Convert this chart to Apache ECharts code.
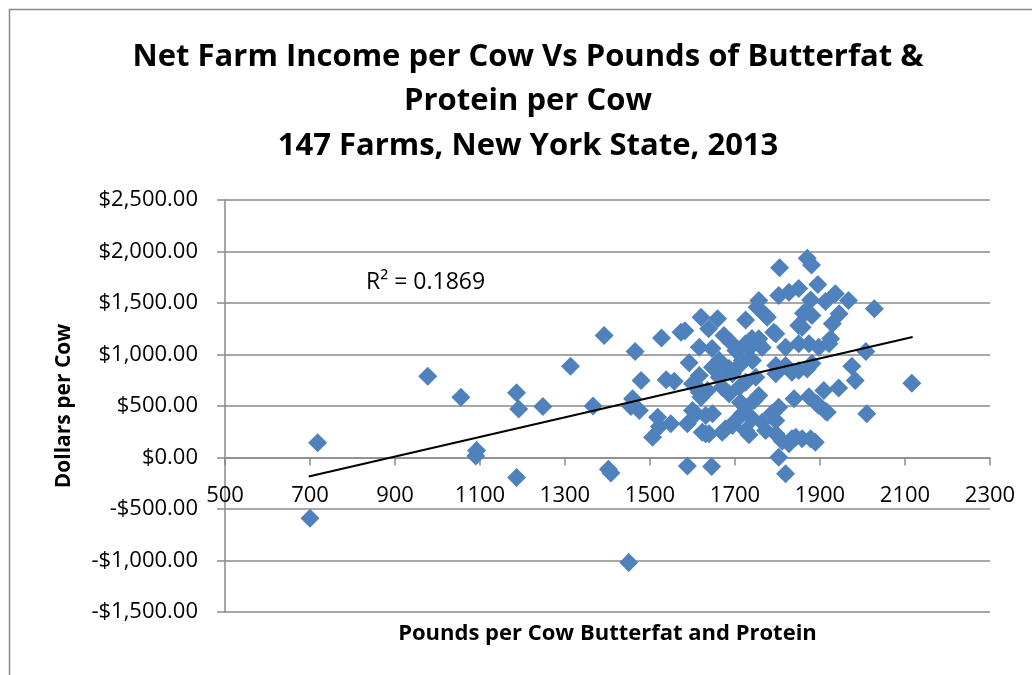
<!DOCTYPE html>
<html><head><meta charset="utf-8">
<script src="https://cdn.jsdelivr.net/npm/echarts@6/dist/echarts.min.js"></script>
<style>html,body{margin:0;padding:0;background:#fff}#c{width:1032px;height:675px}</style>
</head><body><div id="c"></div>
<script>
const titleLines = ['Net Farm Income per Cow Vs Pounds of Butterfat &', 'Protein per Cow', '147 Farms, New York State, 2013'];
const xAxisTitle = 'Pounds per Cow Butterfat and Protein';
const yAxisTitle = 'Dollars per Cow';
const rSquaredLabel = 'R² = 0.1869';
// [pounds butterfat+protein per cow, net farm income per cow ($)]
const farms = [
[718,143],[700,-590],[977,790],[1055,585],[1092,68],[1090,15],[1186,628],[1191,470],[1186,-195],[1248,495],[1313,885],[1366,500],[1392,1185],[1402,-115],[1408,-150],[1450,-1020],
[1465,1030],[1479,748],[1459,570],[1455,495],[1475,456],[1527,1160],[1538,755],[1557,740],[1573,1215],[1582,1230],[1592,920],[1616,796],[1616,634],[1608,699],[1600,456],[1608,424],[1518,391],[1522,300],[1506,197],[1549,327],[1588,327],[1623,246],[1631,408],[1588,-82],[1645,-87],
[1620,1362],[1659,1346],[1638,1249],[1616,1071],[1674,1184],[1690,1120],[1646,1058],[1702,1039],[1805,1842],[1870,1935],[1880,1870],[1756,1524],[1752,1459],[1776,1362],[1796,1201],[1725,1335],[1733,1058],[1725,1104],[1756,1152],[1764,1068],[1819,1071],[1803,1573],[1827,1605],[1850,1640],[1895,1680],[1936,1589],[1967,1524],[1878,1530],[1913,1515],[1945,1395],[1929,1298],[1861,1400],[1858,1265],[1874,1104],[1897,1071],[1921,1104],[1850,1104],[2028,1444],[2008,1030],
[1796,893],[1819,893],[1850,845],[1870,860],[1796,812],[1834,828],[1975,885],[1983,748],[1944,675],[1909,650],[2116,720],[2010,424],[1839,570],[1874,590],[1893,521],[1913,448],[1803,488],[1787,430],[1796,359],[1772,262],[1796,230],[1811,160],[1827,133],[1843,197],[1858,182],[1878,182],[1803,3],[1819,-158],[1756,602],[1745,553],[1717,942],[1741,942],[1725,731],[1749,780],[1686,618],[1710,683],[1670,683],[1635,650],[1620,585],[1600,715],[1647,424],[1631,230],[1678,279],[1694,311],[1702,359],[1717,424],[1741,376],[1733,220],[1713,537],[1725,488],[1663,780],[1694,812],[1647,877],[1663,942],[1686,864],[1710,893],[1881,913],[1925,1152],[1764,343],[1725,262],[1889,149],[1834,182],[1740,1155],[1772,1379],[1791,1217],[1850,1282],[1866,1411],[1881,1379],[1917,440],[1897,505],[1670,246],[1639,230]
];
const trendX = [697, 2118];
const trendY = [-185, 1170];

const FONT = 'Open Sans';
function money(v){
  const s = Math.abs(v).toLocaleString('en-US',{minimumFractionDigits:2,maximumFractionDigits:2});
  return (v < 0 ? '-$' : '$') + s;
}
const GRID = {left:225, right:42, top:200, bottom:63};
const chart = echarts.init(document.getElementById('c'), null, {renderer:'canvas'});
const option = {
  animation:false,
  backgroundColor:'#fff',
  textStyle:{fontFamily:FONT},
  grid:Object.assign({containLabel:false}, GRID),
  xAxis:{
    type:'value', min:500, max:2300, interval:200, offset:0,
    axisLine:{show:true, onZero:false, lineStyle:{color:'#8a8a8a', width:1.5}},
    axisTick:{show:true, length:8, lineStyle:{color:'#8a8a8a', width:1.5}},
    axisLabel:{margin:27, color:'#000', fontSize:22, fontFamily:FONT, formatter:v=>String(v)},
    splitLine:{show:false}
  },
  yAxis:{
    type:'value', min:-1500, max:2500, interval:500,
    axisLine:{show:true, onZero:false, lineStyle:{color:'#8a8a8a', width:1.5}},
    axisTick:{show:true, length:8, lineStyle:{color:'#8a8a8a', width:1.5}},
    axisLabel:{margin:27, color:'#000', fontSize:22, fontFamily:FONT, formatter:money},
    splitLine:{show:true, lineStyle:{color:'#8a8a8a', width:1.5}},
    name: yAxisTitle, nameLocation:'middle', nameGap:150, nameRotate:90,
    nameTextStyle:{fontFamily:FONT, fontWeight:'bold', fontSize:21, color:'#000'}
  },
  graphic:[
    {type:'rect', silent:true, shape:{x:9.5, y:9.5, width:1100, height:800}, style:{fill:'none', stroke:'#8a8a8a', lineWidth:1.5}},
    {type:'text', x:528, y:57, style:{text:titleLines[0], font:'bold 31px "Open Sans"', fill:'#000', textAlign:'center', textVerticalAlign:'middle'}},
    {type:'text', x:528, y:101, style:{text:titleLines[1], font:'bold 31px "Open Sans"', fill:'#000', textAlign:'center', textVerticalAlign:'middle'}},
    {type:'text', x:528, y:146, style:{text:titleLines[2], font:'bold 31px "Open Sans"', fill:'#000', textAlign:'center', textVerticalAlign:'middle'}},
    {type:'text', x:366, y:282, style:{text:rSquaredLabel, font:'23px "Open Sans"', fill:'#000', textAlign:'left', textVerticalAlign:'middle'}},
    {type:'text', x:(1032 - GRID.right + GRID.left)/2, y:634, style:{text:xAxisTitle, font:'bold 22px "Open Sans"', fill:'#000', textAlign:'center', textVerticalAlign:'middle'}}
  ],
  series:[
    {type:'scatter', data:farms, symbol:'diamond', symbolSize:19,
     itemStyle:{color:'#4F81BD', opacity:1}, z:3},
    {type:'line', data:trendX.map((x,i)=>[x,trendY[i]]), symbol:'none',
     lineStyle:{color:'#000', width:2}, z:4}
  ]
};
chart.setOption(option);
// place the x axis on the y = 0 line (as in the reference)
const y0 = chart.convertToPixel({yAxisIndex:0}, 0);
const yBottom = 675 - GRID.bottom;
chart.setOption({xAxis:{offset: y0 - yBottom}});
</script></body></html>
